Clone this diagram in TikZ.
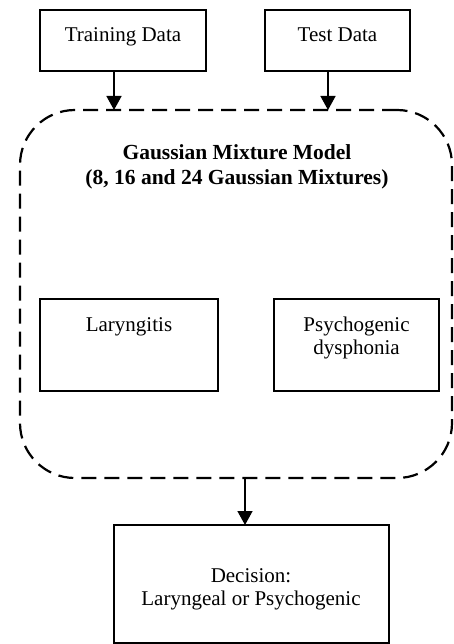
\documentclass[tikz,border=0pt]{standalone}
\usepackage{fontspec}
\setmainfont{Liberation Serif}
\usetikzlibrary{arrows.meta}
\begin{document}
\begin{tikzpicture}[x=1pt,y=-1pt,
  box/.style={draw, line width=1.6pt, inner sep=0pt, outer sep=0pt, anchor=north west},
  txt/.style={anchor=base, inner sep=0pt, font=\fontsize{21}{25}\selectfont},
  ttl/.style={anchor=base, inner sep=0pt, font=\fontsize{21.5}{25}\selectfont\bfseries},
  arr/.style={line width=1.5pt, -{Triangle[width=15pt,length=14pt]}},
  gmmbox/.style={draw, line width=2.2pt, dash pattern=on 15pt off 8pt, rounded corners=55pt, inner sep=0pt, outer sep=0pt, anchor=north west}]
\useasboundingbox (0,0) rectangle (454,644);

\node[box, minimum width=166pt, minimum height=61pt] (train) at (40,10) {};
\node[txt] (traint) at (123,42) {Training Data};
\node[box, minimum width=145pt, minimum height=61pt] (test) at (265,10) {};
\node[txt] (testt) at (337.5,42) {Test Data};

\node[gmmbox, minimum width=432pt, minimum height=368pt] (gmm) at (20,110) {};
\node[ttl] (t1) at (237,160) {Gaussian Mixture Model};
\node[ttl] (t2) at (237,185) {(8, 16 and 24 Gaussian Mixtures)};

\node[box, minimum width=178pt, minimum height=92pt] (lar) at (40,299) {};
\node[txt] (lart) at (129,331) {Laryngitis};
\node[box, minimum width=165pt, minimum height=92pt] (psy) at (274,299) {};
\node[txt] (psyt1) at (356.5,331) {Psychogenic};
\node[txt] (psyt2) at (356.5,354) {dysphonia};

\node[box, minimum width=275pt, minimum height=118pt] (dec) at (114,525) {};
\node[txt] (dect1) at (251,582) {Decision:};
\node[txt] (dect2) at (251,605) {Laryngeal or Psychogenic};

\coordinate (ta) at ([xshift=-9pt]train.south);
\coordinate (tb) at ([xshift=-9.5pt]test.south);
\coordinate (ga) at ([xshift=9pt]gmm.south);
\draw[arr] (ta) -- (ta |- gmm.north);
\draw[arr] (tb) -- (tb |- gmm.north);
\draw[arr] (ga) -- (ga |- dec.north);
\end{tikzpicture}
\end{document}
